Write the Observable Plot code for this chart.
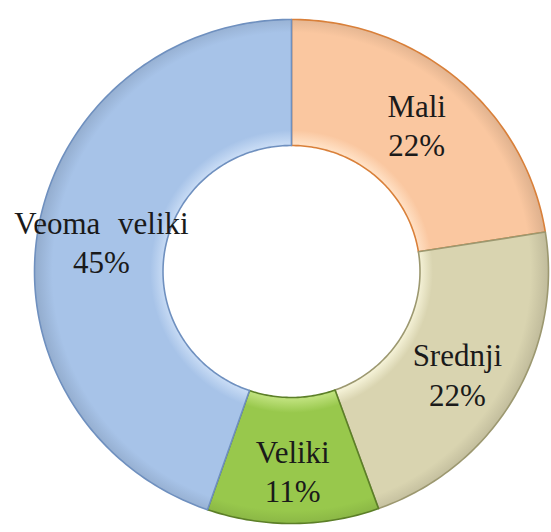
<!DOCTYPE html>
<html>
<head>
<meta charset="utf-8">
<script src="https://cdn.jsdelivr.net/npm/d3@7"></script>
<script src="https://cdn.jsdelivr.net/npm/@observablehq/plot@0.6"></script>
<style>
  html, body { margin: 0; padding: 0; background: #ffffff; }
  #chart svg { display: block; }
  #chart svg text { font-family: "Liberation Serif", "Times New Roman", "DejaVu Serif", serif !important; word-spacing: 10px; }
</style>
</head>
<body>
<div id="chart"></div>
<script>
// ---- data ----
const categories = ["Mali", "Srednji", "Veliki", "Veoma veliki"];
const values = [22.5, 22.0, 10.8, 44.7];          // slice shares (angles)
const percentLabels = ["22%", "22%", "11%", "45%"]; // printed labels
const baseColors = ["#FAC7A0", "#D9D4B0", "#98C84C", "#A7C3E8"];
const lightColors = ["#FFE0C4", "#F4F1D6", "#BDE07A", "#C6DAF4"];
const edgeColors = ["#D9803A", "#9C9870", "#5C7F28", "#6F90BF"];

// ---- geometry in data units (ring from innerR to 1) ----
const innerR = 0.5;
const total = d3.sum(values);
let acc = 0;
const slices = categories.map((c, i) => {
  const a0 = acc / total * 2 * Math.PI;
  acc += values[i];
  const a1 = acc / total * 2 * Math.PI;
  return {cat: c, i, a0, a1};
});

function slicePoints(s) {
  const pts = [];
  const n = Math.max(8, Math.ceil((s.a1 - s.a0) / (Math.PI / 180)));
  for (let k = 0; k <= n; k++) {
    const a = s.a0 + (s.a1 - s.a0) * k / n;
    pts.push({cat: s.cat, x: Math.sin(a), y: Math.cos(a)});
  }
  for (let k = n; k >= 0; k--) {
    const a = s.a0 + (s.a1 - s.a0) * k / n;
    pts.push({cat: s.cat, x: innerR * Math.sin(a), y: innerR * Math.cos(a)});
  }
  return pts;
}

// labels sit at the middle angle of each slice, mid-way across the ring
const labelData = slices.map(s => {
  const a = (s.a0 + s.a1) / 2;
  const r = (1 + innerR) / 2;
  return {x: r * Math.sin(a), y: (r + 0.03) * Math.cos(a), text: s.cat + "\n" + percentLabels[s.i]};
});

const W = 551, H = 532;
const chart = Plot.plot({
  width: W,
  height: H,
  marginLeft: 34,
  marginRight: 3,
  marginTop: 19,
  marginBottom: 9,
  x: {domain: [-1, 1], axis: null},
  y: {domain: [-1, 1], axis: null},
  style: {background: "#ffffff", overflow: "visible", fontFamily: "Liberation Serif, serif"},
  marks: [
    ...slices.map(s => Plot.line(slicePoints(s), {
      x: "x", y: "y",
      curve: "linear-closed",
      fill: `url(#slice-grad-${s.i})`,
      stroke: edgeColors[s.i],
      strokeWidth: 1.6,
      strokeLinejoin: "round"
    })),
    Plot.text(labelData, {
      x: "x", y: "y", text: "text",
      dy: 2,
      lineHeight: 1.27,
      fontFamily: "Liberation Serif",
      fontSize: 31,
      fill: "#1a1a1a"
    })
  ]
});

// gradient definitions for the bevelled ring look
const sx = chart.scale("x"), sy = chart.scale("y");
const cx = sx.apply(0), cy = sy.apply(0);
const rOuter = Math.abs(sx.apply(1) - cx);
const svg = d3.select(chart);
const defs = svg.insert("defs", ":first-child");
slices.forEach(s => {
  const g = defs.append("radialGradient")
    .attr("id", `slice-grad-${s.i}`)
    .attr("gradientUnits", "userSpaceOnUse")
    .attr("cx", cx).attr("cy", cy).attr("r", rOuter);
  const stops = [
    [innerR, lightColors[s.i]],
    [innerR + 0.05, baseColors[s.i]],
    [0.93, baseColors[s.i]],
    [1, d3.color(baseColors[s.i]).darker(0.35).formatHex()]
  ];
  stops.forEach(([o, c]) => g.append("stop").attr("offset", o).attr("stop-color", c));
});

document.getElementById("chart").appendChild(chart);
</script>
</body>
</html>
